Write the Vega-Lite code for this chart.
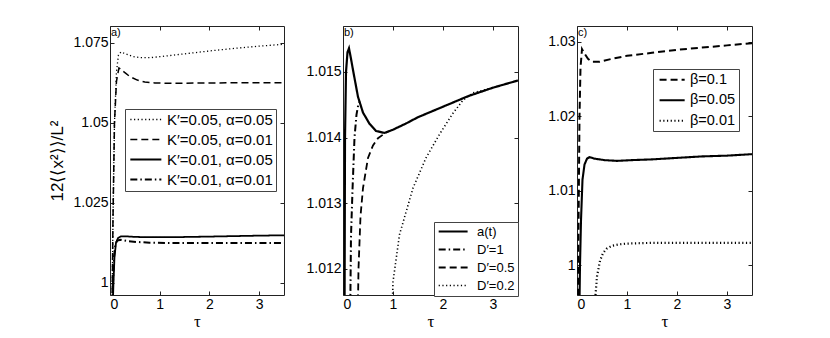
{
  "$schema": "https://vega.github.io/schema/vega-lite/v6.json",
  "padding": {"left": 48, "top": 25, "right": 0, "bottom": 0},
  "background": "white",
  "datasets": {
    "a": [
      {"s": "K′=0.05, α=0.05", "t": 0.04, "v": 0.99}, {"s": "K′=0.05, α=0.05", "t": 0.06, "v": 1.02}, {"s": "K′=0.05, α=0.05", "t": 0.09, "v": 1.05}, {"s": "K′=0.05, α=0.05", "t": 0.13, "v": 1.066}, {"s": "K′=0.05, α=0.05", "t": 0.17, "v": 1.0712}, {"s": "K′=0.05, α=0.05", "t": 0.22, "v": 1.0722}, {"s": "K′=0.05, α=0.05", "t": 0.3, "v": 1.0717}, {"s": "K′=0.05, α=0.05", "t": 0.45, "v": 1.0708}, {"s": "K′=0.05, α=0.05", "t": 0.6, "v": 1.0704}, {"s": "K′=0.05, α=0.05", "t": 0.8, "v": 1.0704}, {"s": "K′=0.05, α=0.05", "t": 1.0, "v": 1.0707}, {"s": "K′=0.05, α=0.05", "t": 1.5, "v": 1.0716}, {"s": "K′=0.05, α=0.05", "t": 2.0, "v": 1.0725}, {"s": "K′=0.05, α=0.05", "t": 2.5, "v": 1.0733}, {"s": "K′=0.05, α=0.05", "t": 3.0, "v": 1.074}, {"s": "K′=0.05, α=0.05", "t": 3.5, "v": 1.0746},
      {"s": "K′=0.05, α=0.01", "t": 0.04, "v": 0.99}, {"s": "K′=0.05, α=0.01", "t": 0.06, "v": 1.02}, {"s": "K′=0.05, α=0.01", "t": 0.09, "v": 1.05}, {"s": "K′=0.05, α=0.01", "t": 0.13, "v": 1.063}, {"s": "K′=0.05, α=0.01", "t": 0.18, "v": 1.0672}, {"s": "K′=0.05, α=0.01", "t": 0.22, "v": 1.0668}, {"s": "K′=0.05, α=0.01", "t": 0.3, "v": 1.0657}, {"s": "K′=0.05, α=0.01", "t": 0.4, "v": 1.0645}, {"s": "K′=0.05, α=0.01", "t": 0.55, "v": 1.0634}, {"s": "K′=0.05, α=0.01", "t": 0.7, "v": 1.0628}, {"s": "K′=0.05, α=0.01", "t": 0.9, "v": 1.0625}, {"s": "K′=0.05, α=0.01", "t": 1.2, "v": 1.0624}, {"s": "K′=0.05, α=0.01", "t": 2.0, "v": 1.0625}, {"s": "K′=0.05, α=0.01", "t": 3.0, "v": 1.0626}, {"s": "K′=0.05, α=0.01", "t": 3.5, "v": 1.0626},
      {"s": "K′=0.01, α=0.05", "t": 0.05, "v": 0.99}, {"s": "K′=0.01, α=0.05", "t": 0.07, "v": 1.0}, {"s": "K′=0.01, α=0.05", "t": 0.09, "v": 1.008}, {"s": "K′=0.01, α=0.05", "t": 0.12, "v": 1.0125}, {"s": "K′=0.01, α=0.05", "t": 0.16, "v": 1.014}, {"s": "K′=0.01, α=0.05", "t": 0.22, "v": 1.0146}, {"s": "K′=0.01, α=0.05", "t": 0.3, "v": 1.0146}, {"s": "K′=0.01, α=0.05", "t": 0.5, "v": 1.0144}, {"s": "K′=0.01, α=0.05", "t": 0.8, "v": 1.0143}, {"s": "K′=0.01, α=0.05", "t": 1.2, "v": 1.0143}, {"s": "K′=0.01, α=0.05", "t": 2.0, "v": 1.0145}, {"s": "K′=0.01, α=0.05", "t": 3.0, "v": 1.0148}, {"s": "K′=0.01, α=0.05", "t": 3.5, "v": 1.0149},
      {"s": "K′=0.01, α=0.01", "t": 0.04, "v": 0.99}, {"s": "K′=0.01, α=0.01", "t": 0.06, "v": 1.0}, {"s": "K′=0.01, α=0.01", "t": 0.08, "v": 1.008}, {"s": "K′=0.01, α=0.01", "t": 0.11, "v": 1.0123}, {"s": "K′=0.01, α=0.01", "t": 0.15, "v": 1.0133}, {"s": "K′=0.01, α=0.01", "t": 0.22, "v": 1.0135}, {"s": "K′=0.01, α=0.01", "t": 0.35, "v": 1.0131}, {"s": "K′=0.01, α=0.01", "t": 0.55, "v": 1.0128}, {"s": "K′=0.01, α=0.01", "t": 0.8, "v": 1.0126}, {"s": "K′=0.01, α=0.01", "t": 1.2, "v": 1.0125}, {"s": "K′=0.01, α=0.01", "t": 2.0, "v": 1.0125}, {"s": "K′=0.01, α=0.01", "t": 3.5, "v": 1.0125}
    ],
    "b": [
      {"s": "a(t)", "t": 0.03, "v": 1.011}, {"s": "a(t)", "t": 0.04, "v": 1.014}, {"s": "a(t)", "t": 0.06, "v": 1.015}, {"s": "a(t)", "t": 0.09, "v": 1.0153}, {"s": "a(t)", "t": 0.12, "v": 1.01536}, {"s": "a(t)", "t": 0.16, "v": 1.0152}, {"s": "a(t)", "t": 0.2, "v": 1.01503}, {"s": "a(t)", "t": 0.3, "v": 1.01462}, {"s": "a(t)", "t": 0.4, "v": 1.01438}, {"s": "a(t)", "t": 0.53, "v": 1.01421}, {"s": "a(t)", "t": 0.66, "v": 1.0141}, {"s": "a(t)", "t": 0.83, "v": 1.01407}, {"s": "a(t)", "t": 1.0, "v": 1.01412}, {"s": "a(t)", "t": 1.25, "v": 1.01421}, {"s": "a(t)", "t": 1.5, "v": 1.01431}, {"s": "a(t)", "t": 2.0, "v": 1.01447}, {"s": "a(t)", "t": 2.5, "v": 1.01463}, {"s": "a(t)", "t": 3.0, "v": 1.01476}, {"s": "a(t)", "t": 3.5, "v": 1.01487},
      {"s": "D′=1", "t": 0.14, "v": 1.011}, {"s": "D′=1", "t": 0.16, "v": 1.0125}, {"s": "D′=1", "t": 0.19, "v": 1.0132}, {"s": "D′=1", "t": 0.23, "v": 1.014}, {"s": "D′=1", "t": 0.27, "v": 1.01435}, {"s": "D′=1", "t": 0.31, "v": 1.01452}, {"s": "D′=1", "t": 0.34, "v": 1.01455},
      {"s": "D′=0.5", "t": 0.29, "v": 1.011}, {"s": "D′=0.5", "t": 0.31, "v": 1.012}, {"s": "D′=0.5", "t": 0.35, "v": 1.0128}, {"s": "D′=0.5", "t": 0.4, "v": 1.01323}, {"s": "D′=0.5", "t": 0.5, "v": 1.01369}, {"s": "D′=0.5", "t": 0.6, "v": 1.01388}, {"s": "D′=0.5", "t": 0.7, "v": 1.01399}, {"s": "D′=0.5", "t": 0.83, "v": 1.01406}, {"s": "D′=0.5", "t": 0.9, "v": 1.01409},
      {"s": "D′=0.2", "t": 0.97, "v": 1.011}, {"s": "D′=0.2", "t": 1.0, "v": 1.0118}, {"s": "D′=0.2", "t": 1.13, "v": 1.01252}, {"s": "D′=0.2", "t": 1.4, "v": 1.01323}, {"s": "D′=0.2", "t": 1.66, "v": 1.01369}, {"s": "D′=0.2", "t": 1.93, "v": 1.01405}, {"s": "D′=0.2", "t": 2.19, "v": 1.01436}, {"s": "D′=0.2", "t": 2.4, "v": 1.01457}, {"s": "D′=0.2", "t": 2.6, "v": 1.01468}, {"s": "D′=0.2", "t": 3.0, "v": 1.01476}, {"s": "D′=0.2", "t": 3.5, "v": 1.01487}
    ],
    "c": [
      {"s": "β=0.1", "t": 0.02, "v": 0.99}, {"s": "β=0.1", "t": 0.03, "v": 1.005}, {"s": "β=0.1", "t": 0.05, "v": 1.02}, {"s": "β=0.1", "t": 0.07, "v": 1.0265}, {"s": "β=0.1", "t": 0.1, "v": 1.029}, {"s": "β=0.1", "t": 0.15, "v": 1.0284}, {"s": "β=0.1", "t": 0.22, "v": 1.0277}, {"s": "β=0.1", "t": 0.3, "v": 1.0273}, {"s": "β=0.1", "t": 0.45, "v": 1.0273}, {"s": "β=0.1", "t": 0.7, "v": 1.0277}, {"s": "β=0.1", "t": 1.0, "v": 1.0281}, {"s": "β=0.1", "t": 1.5, "v": 1.0285}, {"s": "β=0.1", "t": 2.0, "v": 1.0289}, {"s": "β=0.1", "t": 2.5, "v": 1.0292}, {"s": "β=0.1", "t": 3.0, "v": 1.0295}, {"s": "β=0.1", "t": 3.5, "v": 1.0298},
      {"s": "β=0.05", "t": 0.04, "v": 0.99}, {"s": "β=0.05", "t": 0.06, "v": 1.0}, {"s": "β=0.05", "t": 0.08, "v": 1.006}, {"s": "β=0.05", "t": 0.11, "v": 1.0115}, {"s": "β=0.05", "t": 0.15, "v": 1.0135}, {"s": "β=0.05", "t": 0.2, "v": 1.0143}, {"s": "β=0.05", "t": 0.25, "v": 1.0145}, {"s": "β=0.05", "t": 0.35, "v": 1.0143}, {"s": "β=0.05", "t": 0.55, "v": 1.0141}, {"s": "β=0.05", "t": 0.8, "v": 1.014}, {"s": "β=0.05", "t": 1.1, "v": 1.0141}, {"s": "β=0.05", "t": 1.5, "v": 1.0142}, {"s": "β=0.05", "t": 2.0, "v": 1.0144}, {"s": "β=0.05", "t": 2.5, "v": 1.0146}, {"s": "β=0.05", "t": 3.0, "v": 1.0147}, {"s": "β=0.05", "t": 3.5, "v": 1.0149},
      {"s": "β=0.01", "t": 0.37, "v": 0.996}, {"s": "β=0.01", "t": 0.4, "v": 0.9985}, {"s": "β=0.01", "t": 0.46, "v": 1.0006}, {"s": "β=0.01", "t": 0.52, "v": 1.0016}, {"s": "β=0.01", "t": 0.59, "v": 1.0022}, {"s": "β=0.01", "t": 0.7, "v": 1.0026}, {"s": "β=0.01", "t": 0.85, "v": 1.0028}, {"s": "β=0.01", "t": 1.0, "v": 1.0029}, {"s": "β=0.01", "t": 1.5, "v": 1.003}, {"s": "β=0.01", "t": 2.5, "v": 1.003}, {"s": "β=0.01", "t": 3.5, "v": 1.003}
    ]
  },
  "spacing": 59,
  "bounds": "flush",
  "hconcat": [
    {
      "width": 174, "height": 269,
      "data": {"name": "a"},
      "title": {"text": "a)", "anchor": "start", "frame": "group", "offset": -12, "dx": 1, "fontSize": 11, "fontWeight": "normal"},
      "layer": [
        {
          "mark": {"type": "line", "clip": true, "color": "black"},
          "encoding": {
            "x": {"field": "t", "type": "quantitative", "scale": {"domain": [0, 3.5], "nice": false, "zero": false}, "axis": {"orient": "bottom", "values": [0, 1, 2, 3], "format": "d", "title": "τ"}},
            "y": {"field": "v", "type": "quantitative", "scale": {"domain": [0.99625, 1.0803], "nice": false, "zero": false}, "axis": {"orient": "left", "values": [1, 1.025, 1.05, 1.075], "format": ".3~f", "title": "12⟨⟨x²⟩⟩/L²", "titleFont": "Liberation Sans", "titleFontSize": 17, "titlePadding": 6}},
            "strokeDash": {"field": "s", "type": "nominal", "scale": {"domain": ["K′=0.05, α=0.05", "K′=0.05, α=0.01", "K′=0.01, α=0.05", "K′=0.01, α=0.01"], "range": [[1.2, 2.5], [7, 4], [1, 0], [7, 3, 1.5, 3]]}, "legend": {"orient": "none", "legendX": 15, "legendY": 83, "symbolSize": 107, "labelOffset": 24, "labelFontSize": 15, "rowPadding": 4, "padding": 3}},
            "strokeWidth": {"field": "s", "type": "nominal", "scale": {"domain": ["K′=0.05, α=0.05", "K′=0.05, α=0.01", "K′=0.01, α=0.05", "K′=0.01, α=0.01"], "range": [1.3, 2, 2.2, 1.6]}, "legend": {"orient": "none", "legendX": 15, "legendY": 83, "symbolSize": 107, "labelOffset": 24, "labelFontSize": 15, "rowPadding": 4, "padding": 3}}
          }
        },
        {
          "mark": {"type": "point", "opacity": 0, "clip": true},
          "encoding": {
            "x": {"field": "t", "type": "quantitative", "axis": {"orient": "top", "values": [0, 1, 2, 3], "labels": false, "title": null}},
            "y": {"field": "v", "type": "quantitative", "axis": {"orient": "right", "values": [1, 1.025, 1.05, 1.075], "labels": false, "title": null}}
          }
        }
      ],
      "resolve": {"axis": {"x": "independent", "y": "independent"}}
    },
    {
      "width": 175, "height": 269,
      "data": {"name": "b"},
      "title": {"text": "b)", "anchor": "start", "frame": "group", "offset": -12, "dx": 1, "fontSize": 11, "fontWeight": "normal"},
      "layer": [
        {
          "mark": {"type": "line", "clip": true, "color": "black"},
          "encoding": {
            "x": {"field": "t", "type": "quantitative", "scale": {"domain": [0, 3.5], "nice": false, "zero": false}, "axis": {"orient": "bottom", "values": [0, 1, 2, 3], "format": "d", "title": "τ"}},
            "y": {"field": "v", "type": "quantitative", "scale": {"domain": [1.0116, 1.0157], "nice": false, "zero": false}, "axis": {"orient": "left", "values": [1.012, 1.013, 1.014, 1.015], "format": ".3f", "title": null}},
            "strokeDash": {"field": "s", "type": "nominal", "scale": {"domain": ["a(t)", "D′=1", "D′=0.5", "D′=0.2"], "range": [[1, 0], [7, 3, 1.5, 3], [7, 4], [1.2, 2.5]]}, "legend": {"orient": "none", "legendX": 91, "legendY": 196, "symbolSize": 93, "labelOffset": 27, "labelFontSize": 13, "rowPadding": 4, "padding": 3}},
            "strokeWidth": {"field": "s", "type": "nominal", "scale": {"domain": ["a(t)", "D′=1", "D′=0.5", "D′=0.2"], "range": [2.2, 1.6, 2, 1.3]}, "legend": {"orient": "none", "legendX": 91, "legendY": 196, "symbolSize": 93, "labelOffset": 27, "labelFontSize": 13, "rowPadding": 4, "padding": 3}}
          }
        },
        {
          "mark": {"type": "point", "opacity": 0, "clip": true},
          "encoding": {
            "x": {"field": "t", "type": "quantitative", "axis": {"orient": "top", "values": [0, 1, 2, 3], "labels": false, "title": null}},
            "y": {"field": "v", "type": "quantitative", "axis": {"orient": "right", "values": [1.012, 1.013, 1.014, 1.015], "labels": false, "title": null}}
          }
        }
      ],
      "resolve": {"axis": {"x": "independent", "y": "independent"}}
    },
    {
      "width": 175, "height": 269,
      "data": {"name": "c"},
      "title": {"text": "c)", "anchor": "start", "frame": "group", "offset": -12, "dx": 1, "fontSize": 11, "fontWeight": "normal"},
      "layer": [
        {
          "mark": {"type": "line", "clip": true, "color": "black"},
          "encoding": {
            "x": {"field": "t", "type": "quantitative", "scale": {"domain": [0, 3.5], "nice": false, "zero": false}, "axis": {"orient": "bottom", "values": [0, 1, 2, 3], "format": "d", "title": "τ"}},
            "y": {"field": "v", "type": "quantitative", "scale": {"domain": [0.996, 1.0321], "nice": false, "zero": false}, "axis": {"orient": "left", "values": [1, 1.01, 1.02, 1.03], "format": ".2~f", "title": null}},
            "strokeDash": {"field": "s", "type": "nominal", "scale": {"domain": ["β=0.1", "β=0.05", "β=0.01"], "range": [[7, 4], [1, 0], [1.2, 2.5]]}, "legend": {"orient": "none", "legendX": 76, "legendY": 43, "symbolSize": 70, "labelOffset": 19, "labelFontSize": 14.5, "rowPadding": 5.5, "padding": 3.5}},
            "strokeWidth": {"field": "s", "type": "nominal", "scale": {"domain": ["β=0.1", "β=0.05", "β=0.01"], "range": [2, 2.2, 1.5]}, "legend": {"orient": "none", "legendX": 76, "legendY": 43, "symbolSize": 70, "labelOffset": 19, "labelFontSize": 14.5, "rowPadding": 5.5, "padding": 3.5}}
          }
        },
        {
          "mark": {"type": "point", "opacity": 0, "clip": true},
          "encoding": {
            "x": {"field": "t", "type": "quantitative", "axis": {"orient": "top", "values": [0, 1, 2, 3], "labels": false, "title": null}},
            "y": {"field": "v", "type": "quantitative", "axis": {"orient": "right", "values": [1, 1.01, 1.02, 1.03], "labels": false, "title": null}}
          }
        }
      ],
      "resolve": {"axis": {"x": "independent", "y": "independent"}}
    }
  ],
  "resolve": {"scale": {"strokeDash": "independent", "strokeWidth": "independent"}, "legend": {"strokeDash": "independent", "strokeWidth": "independent"}},
  "config": {
    "font": "Liberation Sans",
    "view": {"stroke": "#222", "strokeWidth": 1},
    "title": {"font": "Liberation Sans", "color": "black"},
    "axis": {"domain": false, "grid": false, "tickColor": "#222", "tickSize": -4, "labelPadding": 6, "labelFont": "Liberation Sans", "labelFontSize": 14, "labelColor": "black", "titleFont": "Liberation Serif", "titleFontSize": 17, "titleFontWeight": "normal", "titleColor": "black", "titlePadding": 2},
    "legend": {"title": null, "symbolType": "M-1,0H5", "symbolOffset": 0, "symbolStrokeColor": "black", "labelFont": "Liberation Sans", "labelColor": "black", "strokeColor": "#444", "fillColor": "white"}
  }
}
